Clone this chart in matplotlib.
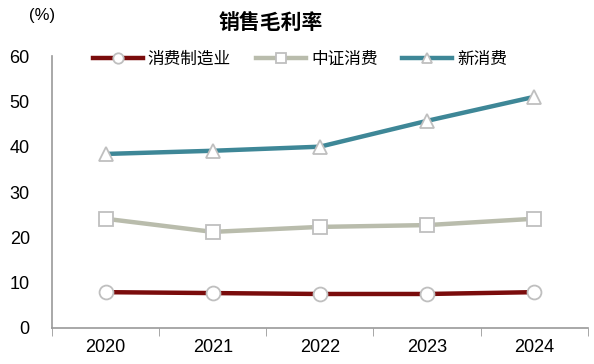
import numpy as np
import matplotlib.pyplot as plt

plt.rcParams['font.family'] = ['Liberation Sans', 'Noto Sans CJK SC', 'DejaVu Sans']

# Data
years = ["2020", "2021", "2022", "2023", "2024"]
manufacturing = [7.9, 7.7, 7.5, 7.5, 7.9]      # 消费制造业
csi_consumer = [24.1, 21.2, 22.3, 22.7, 24.1]  # 中证消费
new_consumer = [38.4, 39.1, 40.0, 45.7, 51.0]  # 新消费

series = [
    ("消费制造业", manufacturing, "#7A0C0C", "o"),
    ("中证消费", csi_consumer, "#B9BCAC", "s"),
    ("新消费", new_consumer, "#3E8797", "^"),
]

cjk = ['Noto Sans CJK SC', 'DejaVu Sans']

fig = plt.figure(figsize=(5.94, 3.64), dpi=100)
ax = fig.add_axes([0.0875, 0.099, 0.902, 0.747])

x = np.arange(len(years))
for name, vals, color, marker in series:
    ax.plot(x, vals, color=color, linewidth=3.2, marker=marker, markersize=10,
            markerfacecolor="white", markeredgecolor="#BFBFBF", markeredgewidth=1.3,
            label=name)

ax.set_xlim(-0.5, len(years) - 0.5)
ax.set_ylim(0, 60)
ax.set_yticks(range(0, 61, 10))
ax.set_xticks(x)
ax.set_xticklabels(years)
ax.set_xticks(np.arange(-0.5, len(years), 1), minor=True)
ax.tick_params(axis="x", which="major", length=0, labelsize=13, pad=8)
ax.tick_params(axis="x", which="minor", length=6, color="#999999", direction="out")
ax.tick_params(axis="y", length=0, labelsize=13, pad=16)

for side in ["top", "right"]:
    ax.spines[side].set_visible(False)
for side in ["left", "bottom"]:
    ax.spines[side].set_color("#999999")
    ax.spines[side].set_linewidth(1.2)

fig.text(0.456, 0.938, "销售毛利率", ha="center", va="center", fontsize=15,
         fontweight="bold", family=cjk)
fig.text(0.071, 0.958, "(%)", ha="center", va="center", fontsize=12)

leg = ax.legend(loc="upper center", bbox_to_anchor=(0.463, 1.075), ncol=3, frameon=False,
                prop={"family": cjk, "size": 12}, handlelength=3.0, columnspacing=1.5,
                handletextpad=0.3, markerscale=0.75)

fig.savefig("out.png", dpi=100)
plt.close(fig)
